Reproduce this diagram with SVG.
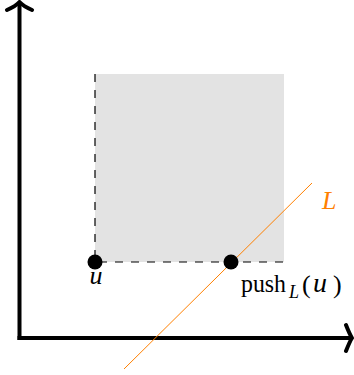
<svg xmlns="http://www.w3.org/2000/svg" width="354" height="375" viewBox="0 0 354 375">
<style>
.axis{stroke:#000;stroke-width:4;fill:none;stroke-linecap:butt}
.head{stroke:#000;stroke-width:4;fill:none;stroke-linecap:round;stroke-linejoin:round}
.dash{stroke:#000;stroke-width:1.2;stroke-dasharray:8 8;fill:none}
.dot{fill:#000}
.lbl{font-family:"Liberation Serif","DejaVu Serif",serif;font-size:26px;fill:#000}
.it{font-style:italic}
</style>
<rect id="region" x="95" y="74" width="189" height="188" fill="#e3e3e3"/>
<g id="connectors">
<line class="axis" x1="19.5" y1="340" x2="19.5" y2="3"/>
<path class="head" d="M7,10 Q16,6 19.5,2 Q23,6 32,10"/>
<line class="axis" x1="17.5" y1="338" x2="351" y2="338"/>
<path class="head" d="M346,325 Q350,335 352,338 Q350,341 346,351"/>
<path class="dash" d="M95,74 V262 H284"/>
<line x1="124" y1="369" x2="312" y2="183" stroke="#ff8000" stroke-width="1"/>
</g>
<g id="u">
<circle class="dot" cx="95" cy="262" r="7.5"/>
<text class="lbl it" x="96" y="284" text-anchor="middle">u</text>
</g>
<g id="push">
<circle class="dot" cx="231" cy="262" r="7.5"/>
<text class="lbl" y="292"><tspan x="241" textLength="45" lengthAdjust="spacingAndGlyphs">push</tspan><tspan class="it" font-size="18" x="289" y="298">L</tspan><tspan x="302" y="293">(</tspan><tspan class="it" x="313" y="292" font-size="28">u</tspan><tspan x="333" y="293">)</tspan></text>
</g>
<g id="L">
<text class="lbl it" x="322" y="209" style="fill:#ff8000">L</text>
</g>
</svg>
